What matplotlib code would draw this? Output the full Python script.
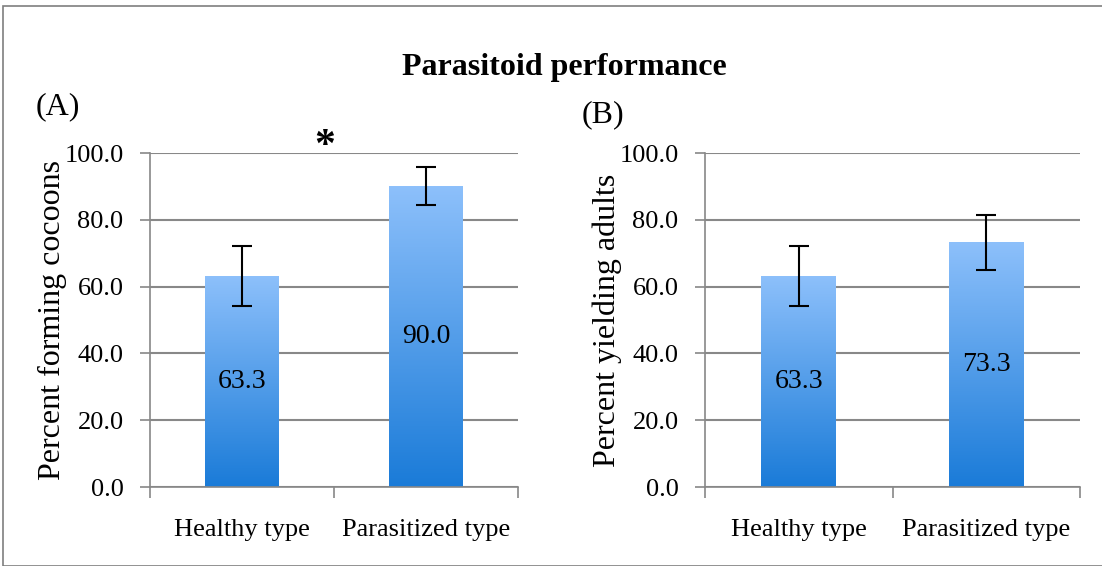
import numpy as np
import matplotlib.pyplot as plt
from matplotlib.colors import LinearSegmentedColormap
from matplotlib.patches import Rectangle

plt.rcParams['font.family'] = ['Liberation Serif', 'DejaVu Serif']

categories = ['Healthy type', 'Parasitized type']
cocoons = [63.3, 90.0]
cocoons_err = [9.0, 5.7]
adults = [63.3, 73.3]
adults_err = [9.0, 8.2]

W, H = 1102, 566
fig = plt.figure(figsize=(W / 100, H / 100), dpi=100)

# outer frame
fig.patches.append(Rectangle((3 / W, 0), 1.2, 1 - 6 / H, transform=fig.transFigure,
                             fill=False, edgecolor='#7f7f7f', linewidth=1.2))

grad = LinearSegmentedColormap.from_list('bar', ['#1a7bd8', '#8dc0fb'])


def panel(ax, values, errs, ylabel):
    x = np.arange(len(values))
    bars = ax.bar(x, values, width=0.4, color='none', edgecolor='none', zorder=2)
    for b, v in zip(bars, values):
        x0, w = b.get_x(), b.get_width()
        img = ax.imshow(np.linspace(0, 1, 256).reshape(-1, 1), cmap=grad, origin='lower',
                        extent=[x0, x0 + w, 0, v], aspect='auto', zorder=2)
        img.set_clip_path(b)
        ax.text(x0 + w / 2, v / 2, f'{v:.1f}', ha='center', va='center', fontsize=20, zorder=4)
    ax.errorbar(x, values, yerr=errs, fmt='none', ecolor='black', elinewidth=1.5,
                capsize=7, capthick=1.5, zorder=3)
    ax.set_xlim(-0.5, 1.5)
    ax.set_ylim(0, 100)
    ax.set_yticks(np.arange(0, 101, 20))
    ax.set_yticklabels([f'{t:.1f}' for t in np.arange(0, 101, 20)], fontsize=19)
    ax.set_xticks([-0.5, 0.5, 1.5], minor=False)
    ax.set_xticklabels([])
    ax.set_xticks(x, minor=True)
    ax.set_xticklabels(categories, minor=True, fontsize=19)
    ax.tick_params(axis='x', which='minor', length=0, pad=23)
    ax.tick_params(axis='x', which='major', length=8, color='#888888', width=1.2, direction='out')
    ax.tick_params(axis='y', length=7, color='#888888', width=1.2, pad=12)
    ax.grid(axis='y', color='#888888', linewidth=1.5, zorder=0)
    ax.set_axisbelow(True)
    for s in ['top', 'right']:
        ax.spines[s].set_visible(False)
    for s in ['left', 'bottom']:
        ax.spines[s].set_color('#888888')
        ax.spines[s].set_linewidth(1.2)
    ax.set_ylabel(ylabel, fontsize=23, labelpad=-2)


ax1 = fig.add_axes([150 / W, 1 - 487 / H, 368 / W, 334 / H])
ax2 = fig.add_axes([705 / W, 1 - 487 / H, 375 / W, 334 / H])
panel(ax1, cocoons, cocoons_err, 'Percent forming cocoons')
panel(ax2, adults, adults_err, 'Percent yielding adults')

fig.text(564 / W, 1 - 67 / H, 'Parasitoid performance', ha='center', va='center',
         fontsize=23, fontweight='bold')
fig.text(36 / W, 1 - 107 / H, '(A)', ha='left', va='center', fontsize=23)
fig.text(582 / W, 1 - 115 / H, '(B)', ha='left', va='center', fontsize=23)
fig.text(325 / W, 1 - 147 / H, '*', ha='center', va='center', fontsize=30, fontweight='bold')

fig.savefig('out.png', dpi=100)
